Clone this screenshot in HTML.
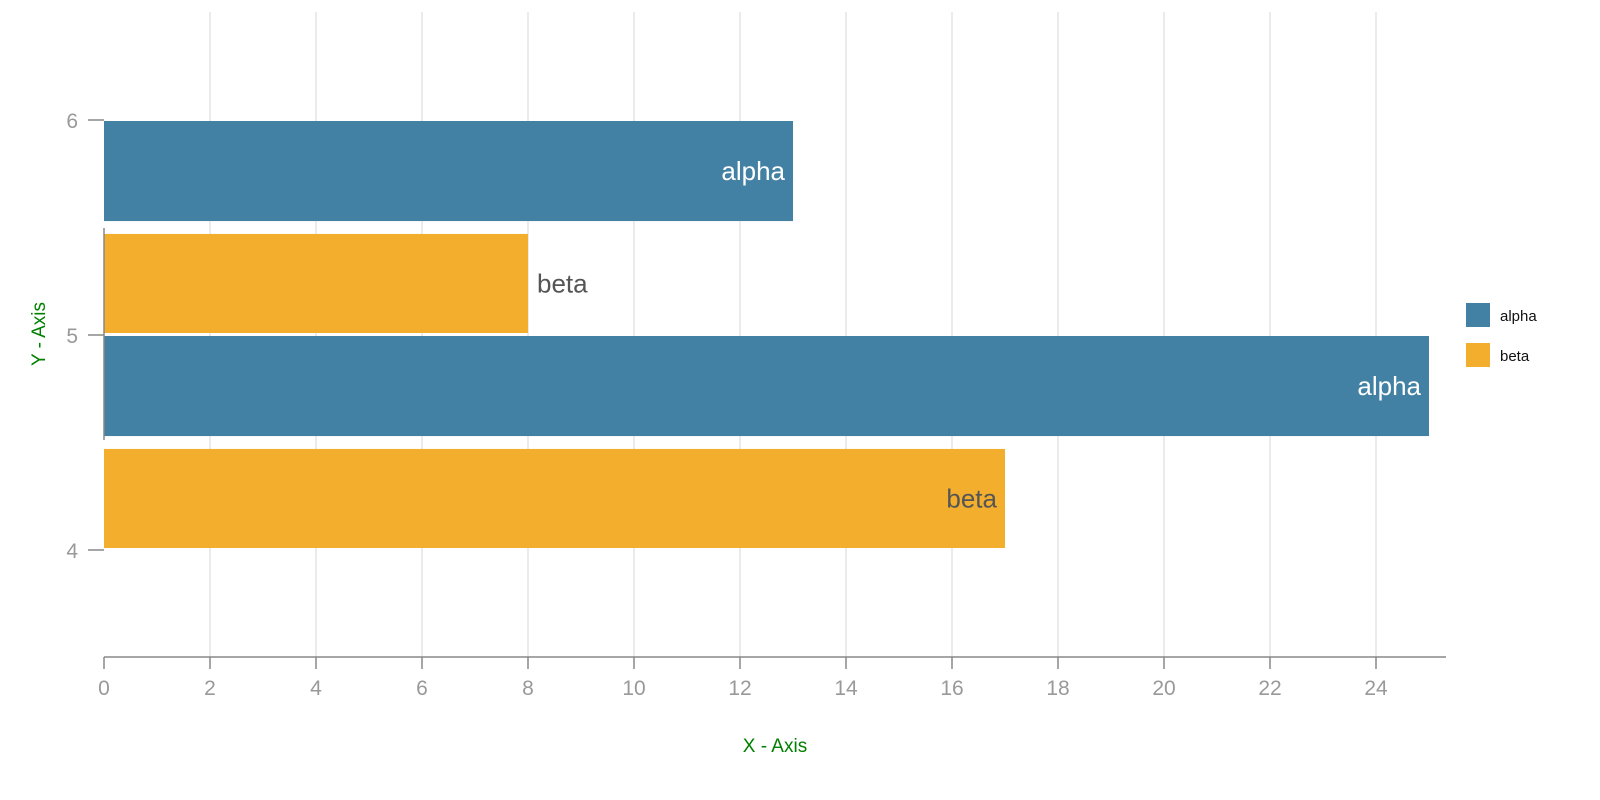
<!DOCTYPE html>
<html><head><meta charset="utf-8"><style>
body{margin:0;background:#fff;}
svg{display:block;font-family:"Liberation Sans",sans-serif;}
</style></head><body>
<svg id="chart" width="1600" height="800"></svg>
<script>
const categories = [6, 5, 5, 4];
const seriesNames = ['alpha', 'beta', 'alpha', 'beta'];
const values = [13, 8, 25, 17];
const xTicks = [0,2,4,6,8,10,12,14,16,18,20,22,24];
const yTicks = [4,5,6];
const legendNames = ['alpha','beta'];
const colors = {alpha:'#4281a4', beta:'#f4ae2e'};

const NS='http://www.w3.org/2000/svg';
const svg=document.getElementById('chart');
const x=v=>104+v*53;
const y=v=>657.5-(v-3.5)*215;
function mk(t,a,parent){const e=document.createElementNS(NS,t);for(const k in a)e.setAttribute(k,a[k]);(parent||svg).appendChild(e);return e;}

// grid
xTicks.forEach(t=>{ if(t>0){const g=mk('line',{x1:x(t),x2:x(t),y1:12,y2:657,stroke:'#ebebeb','stroke-width':2});

}});

// bars
categories.forEach((c,i)=>{
  const s=seriesNames[i];
  const top = s==='alpha'? y(c)+1 : y(c+0.47);
  const bot = s==='alpha'? y(c-0.47) : y(c)-2;
  const r=mk('rect',{x:x(0),y:top,width:x(values[i])-x(0),height:bot-top,fill:colors[s]});
  
  
  const w=x(values[i])-x(0);
  const inside = w>500;
  const tx=mk('text',{x:inside?x(values[i])-8:x(values[i])+9,y:(top+bot)/2+9,'font-size':26,
    fill:(s==='alpha'?'#fff':'#555'),'text-anchor':inside?'end':'start'});
  tx.textContent=s;
  
  
});

// axes
const xa=mk('line',{x1:104,x2:1446,y1:657,y2:657,stroke:'#888','stroke-width':1.5});


const ya=mk('line',{x1:104,x2:104,y1:228,y2:440,stroke:'#888','stroke-width':1.5});


xTicks.forEach(t=>{
  mk('line',{x1:x(t),x2:x(t),y1:657,y2:669,stroke:'#888','stroke-width':1.5});
  const l=mk('text',{x:x(t),y:695,'font-size':21,fill:'#999','text-anchor':'middle'});
  l.textContent=t;
  
  
});
yTicks.forEach(t=>{
  mk('line',{x1:88,x2:104,y1:y(t),y2:y(t),stroke:'#888','stroke-width':1.5});
  const l=mk('text',{x:78,y:y(t)+8,'font-size':21,fill:'#999','text-anchor':'end'});
  l.textContent=t;
  
  
});
const xt=mk('text',{x:775,y:752,'font-size':19,fill:'#008000','text-anchor':'middle'});
xt.textContent='X - Axis';


const yt=mk('text',{x:0,y:0,'font-size':19,fill:'#008000','text-anchor':'middle',transform:'translate(45,334) rotate(-90)'});
yt.textContent='Y - Axis';



// legend
legendNames.forEach((n,i)=>{
  const r=mk('rect',{x:1466,y:303+i*40,width:24,height:24,fill:colors[n]});
  
  
  const t=mk('text',{x:1500,y:321+i*40,'font-size':15,fill:'#111'});
  t.textContent=n;
  
  
});
</script>
</body></html>
